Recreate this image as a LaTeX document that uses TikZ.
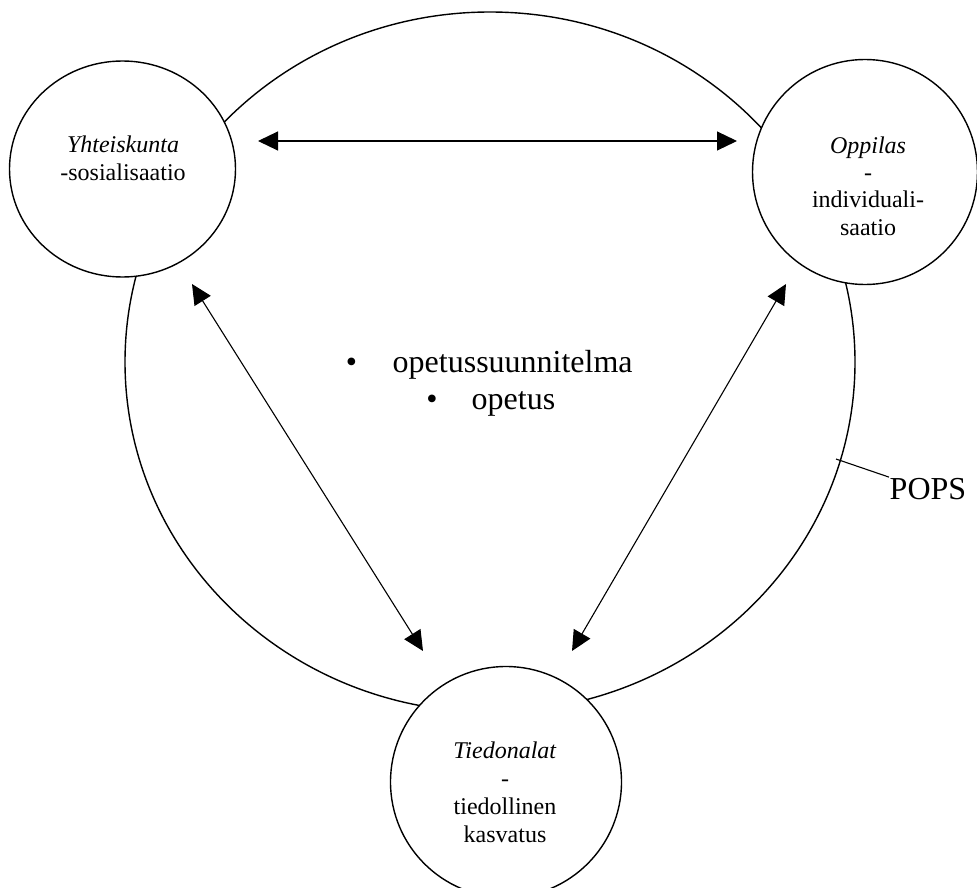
\documentclass[tikz,border=0pt]{standalone}
\usepackage{fontspec}
\setmainfont{Liberation Serif}
\usetikzlibrary{arrows.meta,shapes.geometric}
\begin{document}
\begin{tikzpicture}[x=1pt,y=-1pt, line width=1.4pt,
  ring/.style={draw, fill=white, inner sep=0pt},
  lbl/.style={font=\fontsize{24}{27.3}\selectfont, align=center, inner sep=0pt, anchor=base},
  big/.style={font=\fontsize{32}{38}\selectfont, inner sep=0pt},
  dbl/.style={line width=1.1pt,{Triangle[length=20pt,width=19pt]}-{Triangle[length=20pt,width=19pt]}}]
\useasboundingbox (0,0) rectangle (977,888);
% POPS ring
\node[ellipse, draw, minimum width=730pt, minimum height=700pt, inner sep=0pt] (ring) at (490,362) {};
% three circles
\node[ring, ellipse, minimum width=226pt, minimum height=216pt] (c1) at (122.5,169) {};
\node[ring, circle, minimum size=225pt] (c2) at (865,172) {};
\node[ring, circle, minimum size=231pt] (c3) at (506,782) {};
% labels (anchored at the baseline of their last line)
\node[lbl] (t1) at (123,180) {\textit{Yhteiskunta}\\-sosialisaatio};
\node[lbl] (t2) at (868,235) {\textit{Oppilas}\\-\\individuali-\\saatio};
\node[lbl, font=\fontsize{24}{28}\selectfont] (t3) at (505,842) {\textit{Tiedonalat}\\-\\tiedollinen\\kasvatus};
% arrow end points
\coordinate (h1) at (258,141);
\coordinate (h2) at (737,141);
\coordinate (l1) at (192,284);
\coordinate (l2) at (423,651);
\coordinate (r1) at (786,284);
\coordinate (r2) at (572,651);
\draw[dbl] (h1) -- (h2);
\draw[dbl] (l1) -- (l2);
\draw[dbl] (r1) -- (r2);
% centre text
\node[big, anchor=base] (b1) at (351.5,372) {•};
\node[big, anchor=base west] (o1) at (392,372) {opetussuunnitelma};
\node[big, anchor=base] (b2) at (432,409) {•};
\node[big, anchor=base west] (o2) at (471,409) {opetus};
% POPS label
\node[big, anchor=base west] (popslbl) at (889,499) {POPS};
\coordinate (popsA) at (836,459);
\draw[line width=1.1pt] (popsA) -- (popslbl.north west);
\end{tikzpicture}
\end{document}
